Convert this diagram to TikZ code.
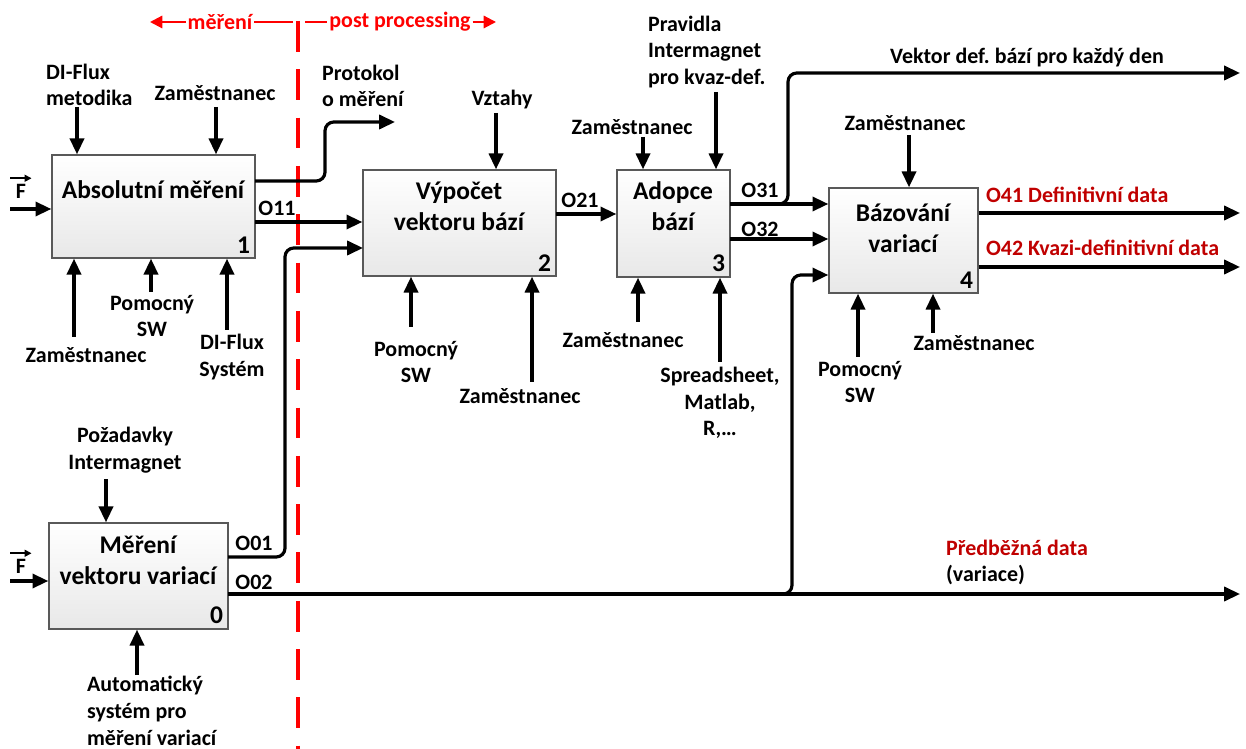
\documentclass[tikz,border=0pt]{standalone}
\usepackage{fontspec}
\setmainfont{Carlito}
\usetikzlibrary{arrows.meta,shadows}
\definecolor{darkred}{RGB}{192,0,0}
\frenchspacing

\begin{document}
\begin{tikzpicture}[x=0.02cm,y=-0.02cm,
  box/.style={draw=black!65,line width=0.8pt,top color=white,bottom color=black!9},
  ttl/.style={font=\fontsize{14.5}{17.5}\selectfont\bfseries,align=center,inner sep=1pt},
  lbl/.style={font=\fontsize{12.5}{15.2}\selectfont\bfseries,align=center,inner sep=1pt},
  num/.style={font=\fontsize{14.5}{17.5}\selectfont\bfseries,anchor=south east,inner sep=3pt},
  flow/.style={line width=1.8pt,-{Triangle[length=9pt,width=8pt]}},
  pipe/.style={line width=1.8pt},
  redtxt/.style={font=\fontsize{12.5}{15}\selectfont\bfseries,text=red,inner sep=1pt},
  outtxt/.style={font=\fontsize{12.5}{15}\selectfont\bfseries,text=darkred,anchor=west,inner sep=1pt},
  vecarr/.style={line width=0.9pt,-{Triangle[length=4pt,width=4pt]}}]
  \useasboundingbox(0,0) rectangle(1246,749);

  % boxes
  \node[box,minimum width=4.06cm,minimum height=2.06cm] (b1) at(153.5,206.5) {};
  \node[box,minimum width=3.58cm,minimum height=2.12cm] (b0) at(138.5,576) {};
  \node[box,minimum width=3.86cm,minimum height=2.12cm] (b2) at(459.5,223) {};
  \node[box,minimum width=2.26cm,minimum height=2.14cm] (b3) at(673.5,223.5) {};
  \node[box,minimum width=2.98cm,minimum height=2.10cm] (b4) at(903.5,240.5) {};
  \node[ttl] (t1) at(153,190) {Absolutní měření};
  \node[ttl] (t0) at(138,560) {Měření\\vektoru variací};
  \node[ttl] (t2) at(459,206) {Výpočet\\vektoru bází};
  \node[ttl] (t3) at(673,206) {Adopce\\bází};
  \node[ttl] (t4) at(903,228) {Bázování\\variací};
  \node[num] (n1) at(b1.south east) {1};
  \node[num] (n0) at(b0.south east) {0};
  \node[num] (n2) at(b2.south east) {2};
  \node[num] (n3) at(b3.south east) {3};
  \node[num] (n4) at(b4.south east) {4};

  % red split line
  \draw[red,line width=1.8pt,dash pattern=on 17.5pt off 10pt](298,21)--(298,749);
  \node[redtxt] (mer) at(220,22) {měření};
  \node[redtxt] (pp) at(400,22) {post processing};
  \coordinate (ml) at(150,22);
  \coordinate (mr) at(293,22);
  \coordinate (pl) at(305,22);
  \coordinate (pr) at(496,22);
  \draw[red,line width=1.2pt,-{Triangle[length=7pt,width=7pt]}](mer.west)--(ml);
  \draw[red,line width=1.2pt](mer.east)--(mr);
  \draw[red,line width=1.2pt](pl)--(pp.west);
  \draw[red,line width=1.2pt,-{Triangle[length=7pt,width=7pt]}](pp.east)--(pr);

  % box 1
  \node[lbl,align=left,anchor=west] (c11) at(44,85) {DI-Flux\\metodika};
  \node[lbl] (c12) at(215,93) {Zaměstnanec};
  \coordinate (a11) at(77,107);
  \coordinate (a12) at(216,107);
  \draw[flow](a11)--(a11|-b1.north);
  \draw[flow](a12)--(a12|-b1.north);
  \node[lbl] (m11) at(86,355) {Zaměstnanec};
  \node[lbl] (m12) at(152,316) {Pomocný\\SW};
  \node[lbl] (m13) at(232,357) {DI-Flux\\Systém};
  \coordinate (d11) at(74,337);
  \coordinate (d12) at(151,292);
  \coordinate (d13) at(227,330);
  \draw[flow](d11)--(d11|-b1.south);
  \draw[flow](d12)--(d12|-b1.south);
  \draw[flow](d13)--(d13|-b1.south);
  \node[lbl] (f1) at(21,191) {F};
  \draw[vecarr]([xshift=-6pt,yshift=2pt]f1.north)--([xshift=6pt,yshift=2pt]f1.north);
  \coordinate (i1) at(10,209);
  \draw[flow](i1)--(i1-|b1.west);
  \node[lbl,align=left,anchor=west] (prot) at(320,86) {Protokol\\o měření};
  \coordinate (p1) at(255,181);
  \coordinate (p2) at(395,122);
  \draw[flow,rounded corners=5pt](p1)--(325,181)--(325,122)--(p2);
  \node[lbl] (o11) at(277,208) {O11};
  \coordinate (q1) at(255,222);
  \draw[flow](q1)--(q1-|b2.west);

  % box 0
  \node[lbl] (c01) at(125,450) {Požadavky\\Intermagnet};
  \coordinate (a01) at(106,479);
  \draw[flow](a01)--(a01|-b0.north);
  \node[lbl,align=left,anchor=west] (m01) at(85,711) {Automatický\\systém pro\\měření variací};
  \coordinate (d01) at(137,675);
  \draw[flow](d01)--(d01|-b0.south);
  \node[lbl] (f0) at(21,566) {F};
  \draw[vecarr]([xshift=-6pt,yshift=2pt]f0.north)--([xshift=6pt,yshift=2pt]f0.north);
  \coordinate (i0) at(10,581);
  \draw[flow](i0)--(i0-|b0.west);
  \node[lbl] (o01) at(254,543) {O01};
  \node[lbl] (o02) at(254,582) {O02};
  \coordinate (r1) at(228,557);
  \coordinate (r2) at(363,248);
  \draw[flow,rounded corners=5pt](r1)--(285,557)--(285,248)--(r2);
  \coordinate (s1) at(228,594);
  \coordinate (s2) at(1240,594);
  \draw[flow](s1)--(s2);
  \coordinate (s3) at(775,594);
  \draw[flow,rounded corners=5pt](s3)--(792,594)--(792,275)--(b4.west|-792,275);
  \node[outtxt] (pred) at(944,548) {Předběžná data};
  \node[lbl,anchor=west] (var) at(944,575) {(variace)};

  % box 2
  \node[lbl] (c21) at(502,100) {Vztahy};
  \coordinate (a21) at(496,113);
  \draw[flow](a21)--(a21|-b2.north);
  \node[lbl] (m21) at(416,362) {Pomocný\\SW};
  \node[lbl] (m22) at(520,396) {Zaměstnanec};
  \coordinate (d21) at(411,327);
  \coordinate (d22) at(532,382);
  \draw[flow](d21)--(d21|-b2.south);
  \draw[flow](d22)--(d22|-b2.south);
  \node[lbl] (o21) at(580,200) {O21};
  \coordinate (q2) at(556,214);
  \draw[flow](q2)--(q2-|b3.west);

  % box 3
  \node[lbl] (c31) at(632,127) {Zaměstnanec};
  \node[lbl,align=left,anchor=west] (c32) at(646,52) {Pravidla\\Intermagnet\\pro kvaz-def.};
  \coordinate (a31) at(643,137);
  \coordinate (a32) at(716,92);
  \draw[flow](a31)--(a31|-b3.north);
  \draw[flow](a32)--(a32|-b3.north);
  \node[lbl] (m31) at(623,340) {Zaměstnanec};
  \node[lbl] (m32) at(720,403) {Spreadsheet,\\Matlab,\\R,…};
  \coordinate (d31) at(638,322);
  \coordinate (d32) at(720,362);
  \draw[flow](d31)--(d31|-b3.south);
  \draw[flow](d32)--(d32|-b3.south);
  \node[lbl] (o31) at(760,190) {O31};
  \node[lbl] (o32) at(760,229) {O32};
  \coordinate (q3) at(730,204);
  \coordinate (q4) at(730,239);
  \draw[flow](q3)--(q3-|b4.west);
  \draw[flow](q4)--(q4-|b4.west);
  \node[lbl] (vek) at(1027,58) {Vektor def. bází pro každý den};
  \coordinate (v1) at(775,204);
  \coordinate (v2) at(1240,73);
  \draw[flow,rounded corners=5pt](v1)--(788,204)--(788,73)--(v2);

  % box 4
  \node[lbl] (c41) at(905,123) {Zaměstnanec};
  \coordinate (a41) at(909,135);
  \draw[flow](a41)--(a41|-b4.north);
  \node[lbl] (m41) at(860,382) {Pomocný\\SW};
  \node[lbl] (m42) at(974,343) {Zaměstnanec};
  \coordinate (d41) at(858,357);
  \coordinate (d42) at(933,333);
  \draw[flow](d41)--(d41|-b4.south);
  \draw[flow](d42)--(d42|-b4.south);
  \node[outtxt] (o41) at(984,195) {O41 Definitivní data};
  \node[outtxt] (o42) at(984,248) {O42 Kvazi-definitivní data};
  \coordinate (w1) at(1240,213);
  \coordinate (w2) at(1240,267);
  \draw[flow](b4.east|-w1)--(w1);
  \draw[flow](b4.east|-w2)--(w2);
\end{tikzpicture}
\end{document}
